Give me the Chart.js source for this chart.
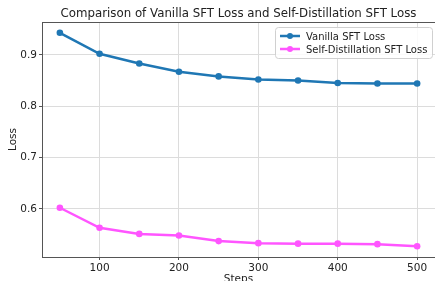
<!DOCTYPE html>
<html>
<head>
<meta charset="utf-8">
<script src="https://cdn.jsdelivr.net/npm/chart.js@4"></script>
<style>
  html, body { margin: 0; padding: 0; background: #fff; }
  #wrap { width: 435px; height: 281px; }
</style>
</head>
<body>
<div id="wrap"><canvas id="lossChart" width="435" height="281"></canvas></div>
<script>
const steps = [50, 100, 150, 200, 250, 300, 350, 400, 450, 500];
const vanillaLoss = [0.943, 0.902, 0.883, 0.867, 0.858, 0.852, 0.850, 0.845, 0.844, 0.844];
const distillLoss = [0.602, 0.563, 0.551, 0.548, 0.537, 0.533, 0.532, 0.532, 0.531, 0.527];
const xTicks = [100, 200, 300, 400, 500];
const yTicks = [0.6, 0.7, 0.8, 0.9];

const FONT = "'DejaVu Sans', sans-serif";
const BLUE = '#1f77b4';
const PINK = '#ff55ff';

// title, top spine and legend box drawn by hand (matplotlib look)
const extras = {
    id: 'extras',
    afterDraw(chart) {
        const ctx = chart.ctx;
        const a = chart.chartArea;
        ctx.save();
        ctx.strokeStyle = '#555';
        ctx.lineWidth = 1;
        ctx.beginPath();
        ctx.moveTo(a.left, a.top + 0.5);
        ctx.lineTo(a.right, a.top + 0.5);
        ctx.stroke();

        ctx.fillStyle = '#222';
        ctx.font = '11.8px ' + FONT;
        ctx.textAlign = 'center';
        ctx.textBaseline = 'middle';
        ctx.fillText('Comparison of Vanilla SFT Loss and Self-Distillation SFT Loss', 238.5, 14);

        // legend
        const bx = 275, by = 27, bw = 157, bh = 31;
        ctx.fillStyle = 'rgba(255,255,255,0.85)';
        ctx.strokeStyle = '#d0d0d0';
        ctx.beginPath();
        ctx.roundRect(bx + 0.5, by + 0.5, bw, bh, 3);
        ctx.fill();
        ctx.stroke();
        ctx.font = '10px ' + FONT;
        ctx.textAlign = 'left';
        chart.data.datasets.forEach((ds, i) => {
            const y = by + 9 + i * 13;
            ctx.strokeStyle = ds.borderColor;
            ctx.lineWidth = 2.5;
            ctx.beginPath();
            ctx.moveTo(bx + 5, y);
            ctx.lineTo(bx + 25, y);
            ctx.stroke();
            ctx.fillStyle = ds.borderColor;
            ctx.beginPath();
            ctx.arc(bx + 15, y, 3, 0, Math.PI * 2);
            ctx.fill();
            ctx.fillStyle = '#222';
            ctx.fillText(ds.label, bx + 31, y + 1);
        });
        ctx.restore();
    }
};

new Chart(document.getElementById('lossChart'), {
    type: 'line',
    data: {
        datasets: [
            {
                label: 'Vanilla SFT Loss',
                data: steps.map((s, i) => ({ x: s, y: vanillaLoss[i] })),
                borderColor: BLUE,
                backgroundColor: BLUE,
                borderWidth: 2.5,
                pointRadius: 3.3,
                pointBorderWidth: 0,
                tension: 0
            },
            {
                label: 'Self-Distillation SFT Loss',
                data: steps.map((s, i) => ({ x: s, y: distillLoss[i] })),
                borderColor: PINK,
                backgroundColor: PINK,
                borderWidth: 2.5,
                pointRadius: 3.3,
                pointBorderWidth: 0,
                tension: 0
            }
        ]
    },
    options: {
        responsive: false,
        animation: false,
        layout: { autoPadding: false, padding: { top: 22, left: 0, right: 0, bottom: 0 } },
        plugins: { legend: { display: false }, tooltip: { enabled: false } },
        scales: {
            x: {
                type: 'linear',
                min: 27.5,
                max: 522.5,
                afterBuildTicks: s => { s.ticks = xTicks.map(v => ({ value: v })); },
                afterFit: s => { s.height = 24; },
                ticks: { font: { family: FONT, size: 10.5 }, color: '#222', padding: 2, maxRotation: 0 },
                grid: { color: '#dcdcdc', tickLength: 3, tickColor: '#555' },
                border: { color: '#555' },
                title: { display: true, text: 'Steps', font: { family: FONT, size: 10.5 }, color: '#222', padding: { top: 0, bottom: -5 } }
            },
            y: {
                min: 0.506,
                max: 0.964,
                afterBuildTicks: s => { s.ticks = yTicks.map(v => ({ value: v })); },
                afterFit: s => { s.width = 42; },
                ticks: { font: { family: FONT, size: 10.5 }, color: '#222', padding: 2, callback: v => v.toFixed(1) },
                grid: { color: '#dcdcdc', tickLength: 3, tickColor: '#555' },
                border: { color: '#555' },
                title: { display: true, text: 'Loss', font: { family: FONT, size: 10.5 }, color: '#222', padding: { top: 7, bottom: 0 } }
            }
        }
    },
    plugins: [extras]
});
</script>
</body>
</html>
